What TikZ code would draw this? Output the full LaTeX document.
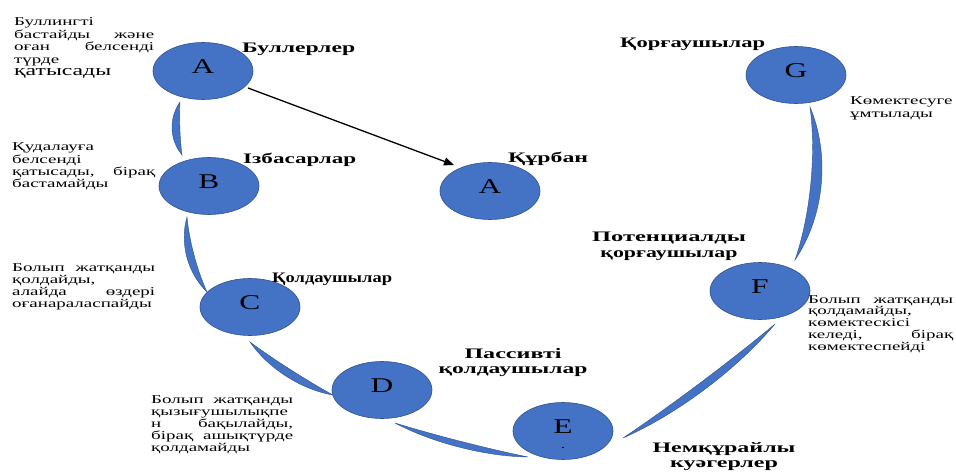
\documentclass[tikz,border=0pt]{standalone}
\usepackage{fontspec}
\setmainfont{Liberation Serif}
\newfontfamily\smallf[FakeStretch=1.58]{Liberation Serif}
\newfontfamily\letf[FakeStretch=1.5]{Liberation Serif}
\usepackage{graphicx}
\usetikzlibrary{shapes.geometric,calc,arrows.meta}
\definecolor{bfill}{HTML}{4472C4}
\definecolor{bedge}{HTML}{2F528F}
\newcommand\wbox[2]{\resizebox{#1}{\height}{#2}}
\newcommand\jl[2]{\makebox[#1][s]{#2}}
\newcommand\cres[4]{\fill[cresc] (#1) .. controls ($(#1)!0.3!(#2)!#3!90:(#2)$) and ($(#1)!0.7!(#2)!#3!90:(#2)$) .. (#2) .. controls ($(#1)!0.7!(#2)!#4!90:(#2)$) and ($(#1)!0.3!(#2)!#4!90:(#2)$) .. (#1) -- cycle;}
\tikzset{
  circ/.style={ellipse, fill=bfill, draw=bedge, line width=0.6pt, minimum width=100pt, minimum height=57pt, inner sep=0pt, text height=17pt, text depth=12pt, font=\letf\fontsize{21}{21}\selectfont},
  cresc/.style={fill=bfill, draw=bedge, line width=0.4pt},
  lbl/.style={inner sep=0pt, font=\bfseries\fontsize{14.5}{15.5}\selectfont},
  desc/.style={inner sep=0pt, anchor=base west, font=\smallf\fontsize{12}{12.2}\selectfont},
  arr/.style={line width=1.3pt, -{Triangle[length=10pt,width=8pt]}}
}
\begin{document}
\begin{tikzpicture}[x=1pt,y=-1pt]
\useasboundingbox (0,0) rectangle (956,473);
% ellipses
\node[circ] (A1) at (203,71) {A};
\node[circ] (B) at (209,186) {B};
\node[circ] (C) at (250,307) {C};
\node[circ] (D) at (382,390) {D};
\node[circ] (E) at (563,431) {E};
\node[inner sep=0pt, anchor=base, font=\smallf\fontsize{12}{12}\selectfont] (Edot) at (563,448) {.};
\node[circ] (V) at (490,191) {A};
\node[circ] (G) at (796,75) {G};
\node[circ] (F) at (760,291) {F};
% crescent connector endpoints
\coordinate (ab1) at ($(A1)+(-23,31)$);
\coordinate (ab2) at ($(B)+(-27,-31)$);
\coordinate (bc1) at ($(B)+(-22,31)$);
\coordinate (bc2) at ($(C)+(-43,-15)$);
\coordinate (cd1) at ($(C)+(0,35)$);
\coordinate (cd2) at ($(D)+(-49,5)$);
\coordinate (de1) at ($(D)+(13,33)$);
\coordinate (de2) at ($(E)+(-35,26)$);
\coordinate (ef1) at ($(E)+(60,7)$);
\coordinate (ef2) at ($(F)+(15,33)$);
\coordinate (fg1) at ($(F)+(35,-31)$);
\coordinate (fg2) at ($(G)+(14,32)$);
\cres{ab1}{ab2}{-12pt}{-1.5pt}
\cres{bc1}{bc2}{-14pt}{-4pt}
\cres{cd1}{cd2}{-12.5pt}{-2pt}
\cres{de1}{de2}{-10pt}{-2pt}
\cres{ef1}{ef2}{-13.5pt}{-3pt}
\cres{fg1}{fg2}{-25pt}{-11pt}
% arrow
\draw[arr] ($(A1)+(45,17)$) -- ($(V)+(-36,-26)$);
% bold labels
\node[lbl, anchor=base west] (lA) at (242,53) {\wbox{113pt}{Буллерлер}};
\node[lbl, anchor=base west] (lB) at (243,164) {\wbox{113pt}{Ізбасарлар}};
\node[lbl, anchor=base west] (lC) at (272,283) {\wbox{120pt}{Қолдаушылар}};
\node[lbl, anchor=base west] (lV) at (508,163) {\wbox{80pt}{Құрбан}};
\node[lbl, anchor=base west] (lG) at (620,48) {\wbox{145pt}{Қорғаушылар}};
\node[lbl, anchor=base] (lF) at (669,242) {\begin{tabular}[t]{@{}c@{}}\wbox{154pt}{Потенциалды}\\ \wbox{137pt}{қорғаушылар}\end{tabular}};
\node[lbl, anchor=base] (lD) at (513,358) {\begin{tabular}[t]{@{}c@{}}\wbox{97pt}{Пассивті}\\ \wbox{149pt}{қолдаушылар}\end{tabular}};
\node[lbl, anchor=base] (lE) at (724,452) {\begin{tabular}[t]{@{}c@{}}\wbox{143pt}{Немқұрайлы}\\ \wbox{108pt}{куәгерлер}\end{tabular}};
% descriptions
\node[desc, font=\smallf\fontsize{12}{12.5}\selectfont] (tA) at (14,26) {\begin{tabular}[t]{@{}l@{}}Буллингті\\ \jl{140pt}{бастайды және}\\ \jl{140pt}{оған белсенді}\\ түрде\\ {\fontsize{15}{15}\selectfont қатысады}\end{tabular}};
\node[desc] (tB) at (12,151) {\begin{tabular}[t]{@{}l@{}}Қудалауға\\ белсенді\\ \jl{143pt}{қатысады, бірақ}\\ бастамайды\end{tabular}};
\node[desc, font=\smallf\fontsize{12}{11.9}\selectfont] (tC) at (12,272) {\begin{tabular}[t]{@{}l@{}}\jl{143pt}{Болып жатқанды}\\ қолдайды,\\ \jl{143pt}{алайда өздері}\\ оғанараласпайды\end{tabular}};
\node[desc, font=\smallf\fontsize{12}{12}\selectfont] (tD) at (151,403) {\begin{tabular}[t]{@{}l@{}}\jl{142pt}{Болып жатқанды}\\ қызығушылықпе\\ \jl{142pt}{н бақылайды,}\\ \jl{142pt}{бірақ ашықтүрде}\\ қолдамайды\end{tabular}};
\node[desc, font=\smallf\fontsize{12}{11.7}\selectfont] (tF) at (808,303) {\begin{tabular}[t]{@{}l@{}}\jl{145pt}{Болып жатқанды}\\ қолдамайды,\\ көмектескісі\\ \jl{145pt}{келеді, бірақ}\\ көмектеспейді\end{tabular}};
\node[desc] (tG) at (850,105) {\begin{tabular}[t]{@{}l@{}}Көмектесуге\\ ұмтылады\end{tabular}};
\end{tikzpicture}
\end{document}
